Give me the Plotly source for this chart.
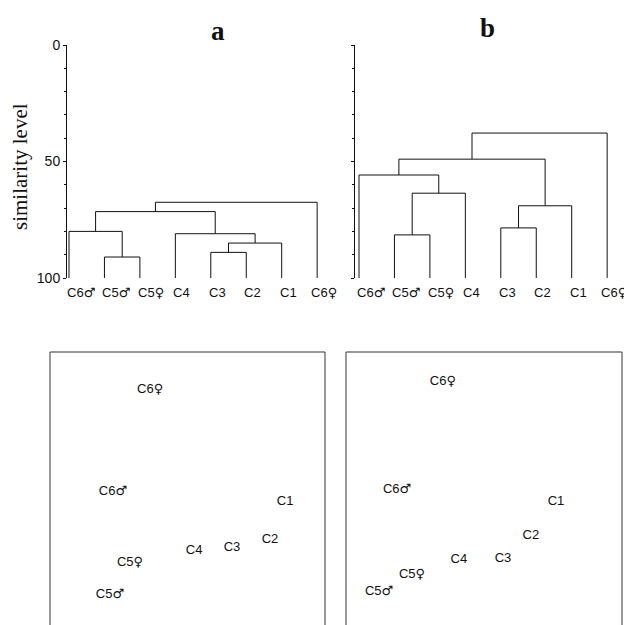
import plotly.graph_objects as go

# ---------------- data ----------------
leaf_labels_a = ["C6♂", "C5♂", "C5♀", "C4", "C3", "C2", "C1", "C6♀"]
leaf_labels_b = ["C6♂", "C5♂", "C5♀", "C4", "C3", "C2", "C1", "C6♀"]

# linkage: (left cluster, right cluster, similarity level); clusters >= 8 are earlier merges
merge_left_a = [1, 0, 4, 10, 3, 9, 13]
merge_right_a = [2, 8, 5, 6, 11, 12, 7]
merge_level_a = [91, 80, 89, 85, 81, 71.5, 67.5]

merge_left_b = [1, 8, 0, 4, 11, 10, 13]
merge_right_b = [2, 3, 9, 5, 6, 12, 7]
merge_level_b = [81.5, 63.6, 55.8, 78.5, 69, 49, 37.8]

y_tick_vals = [0, 50, 100]

# ordination scores (arbitrary units)
ord_labels_a = ["C6♀", "C6♂", "C1", "C2", "C3", "C4", "C5♀", "C5♂"]
ord_x_a = [36.4, 22.9, 85.5, 80.0, 66.2, 52.4, 29.1, 21.8]
ord_y_a = [86.1, 48.7, 45.1, 31.1, 28.2, 27.1, 22.7, 11.0]

ord_labels_b = ["C6♀", "C6♂", "C1", "C2", "C3", "C4", "C5♀", "C5♂"]
ord_x_b = [35.1, 18.5, 76.1, 67.0, 56.9, 40.9, 23.9, 12.0]
ord_y_b = [89.0, 49.5, 45.1, 32.6, 24.2, 23.8, 18.3, 12.1]

# ---------------- helpers ----------------
OFF = 8  # default page margin in the browser
W, H = 632 - OFF, 625 - OFF


def px(p):
    return (p - OFF) / W


def py(p):
    return 1 - (p - OFF) / H


def sym(label):
    # render the sex symbols with a font that draws them full size
    for s in ("♂", "♀"):
        label = label.replace(s, '<span style="font-family:DejaVu Sans">' + s + "</span>")
    return label


def dendro_lines(n, lefts, rights, levels):
    pos = {i: (float(i), 100.0) for i in range(n)}
    xs, ys = [], []
    for k, (l, r, h) in enumerate(zip(lefts, rights, levels)):
        xl, hl = pos[l]
        xr, hr = pos[r]
        xs += [xl, xl, xr, xr, None]
        ys += [hl, h, h, hr, None]
        pos[n + k] = ((xl + xr) / 2, h)
    return xs, ys


fig = go.Figure()

xa, ya = dendro_lines(len(leaf_labels_a), merge_left_a, merge_right_a, merge_level_a)
xb, yb = dendro_lines(len(leaf_labels_b), merge_left_b, merge_right_b, merge_level_b)

line_style = dict(color="#111111", width=1)
fig.add_trace(go.Scatter(x=xa, y=ya, mode="lines", line=line_style,
                         xaxis="x", yaxis="y", hoverinfo="skip"))
fig.add_trace(go.Scatter(x=xb, y=yb, mode="lines", line=line_style,
                         xaxis="x2", yaxis="y2", hoverinfo="skip"))

txt_font = dict(family="Liberation Sans, Arial, DejaVu Sans", size=13, color="#111111")
fig.add_trace(go.Scatter(x=ord_x_a, y=ord_y_a, text=[sym(t) for t in ord_labels_a], mode="text",
                         textposition="middle center", textfont=txt_font,
                         xaxis="x3", yaxis="y3"))
fig.add_trace(go.Scatter(x=ord_x_b, y=ord_y_b, text=[sym(t) for t in ord_labels_b], mode="text",
                         textposition="middle center", textfont=txt_font,
                         xaxis="x4", yaxis="y4"))

tick_font = dict(family="Liberation Sans, Arial", size=14, color="#111111")
leaf_font = dict(family="Liberation Sans, Arial, DejaVu Sans", size=13, color="#111111")

sp = 35.45
common_y = dict(range=[100, 0], showline=True, linecolor="#111111", linewidth=1,
                ticks="outside", ticklen=3, tickcolor="#111111",
                tickvals=y_tick_vals, showgrid=False, zeroline=False, automargin=False,
                minor=dict(dtick=10, ticks="outside", ticklen=2, tickcolor="#111111"),
                domain=[py(278), py(45)])
common_x = dict(showline=False, showgrid=False, zeroline=False, ticks="",
                showticklabels=False, automargin=False)

fig.update_layout(
    width=W, height=H, margin=dict(l=0, r=0, t=0, b=0, autoexpand=False),
    paper_bgcolor="white", plot_bgcolor="white", showlegend=False,
    xaxis=dict(**common_x, domain=[px(67), px(330)],
               range=[(67 - 69) / sp, (330 - 69) / sp], anchor="y"),
    yaxis=dict(**common_y, anchor="x", tickfont=tick_font, showticklabels=True),
    xaxis2=dict(**common_x, domain=[px(355), px(631)],
                range=[(355 - 359) / sp, (631 - 359) / sp], anchor="y2"),
    yaxis2=dict(**common_y, anchor="x2", showticklabels=False),
    xaxis3=dict(domain=[px(50), px(325)], range=[0, 100], visible=False, anchor="y3",
                automargin=False),
    yaxis3=dict(domain=[0, py(352)], range=[0, 100], visible=False, anchor="x3",
                automargin=False),
    xaxis4=dict(domain=[px(346), px(622)], range=[0, 100], visible=False, anchor="y4",
                automargin=False),
    yaxis4=dict(domain=[0, py(352)], range=[0, 100], visible=False, anchor="x4",
                automargin=False),
)

# leaf labels, set just below each leaf and starting at it
for labels, xr, yr in [(leaf_labels_a, "x", "y"), (leaf_labels_b, "x2", "y2")]:
    for i, lab in enumerate(labels):
        last = i == len(labels) - 1
        fig.add_annotation(text=sym(lab), x=i, y=100, xref=xr, yref=yr,
                           xanchor="left", yanchor="middle",
                           xshift=-8 if last else -4, yshift=-14,
                           showarrow=False, font=leaf_font)

# frames of the ordination panels (run off the bottom edge)
for x0, x1 in [(50, 325), (346, 622)]:
    fig.add_shape(type="rect", xref="paper", yref="paper",
                  x0=px(x0), x1=px(x1), y0=-0.05, y1=py(352),
                  line=dict(color="#333333", width=1))

title_font = dict(family="Liberation Serif, Times New Roman", size=27, color="#111111")
fig.add_annotation(text="<b>a</b>", x=px(218), y=py(31), xref="paper", yref="paper",
                   xanchor="center", yanchor="middle", showarrow=False, font=title_font)
fig.add_annotation(text="<b>b</b>", x=px(487), y=py(28), xref="paper", yref="paper",
                   xanchor="center", yanchor="middle", showarrow=False, font=title_font)
fig.add_annotation(text="similarity level", x=px(20), y=py(167), xref="paper", yref="paper",
                   xanchor="center", yanchor="middle", showarrow=False, textangle=-90,
                   font=dict(family="Liberation Serif, Times New Roman", size=21, color="#111111"))

fig.write_html("out.html")
